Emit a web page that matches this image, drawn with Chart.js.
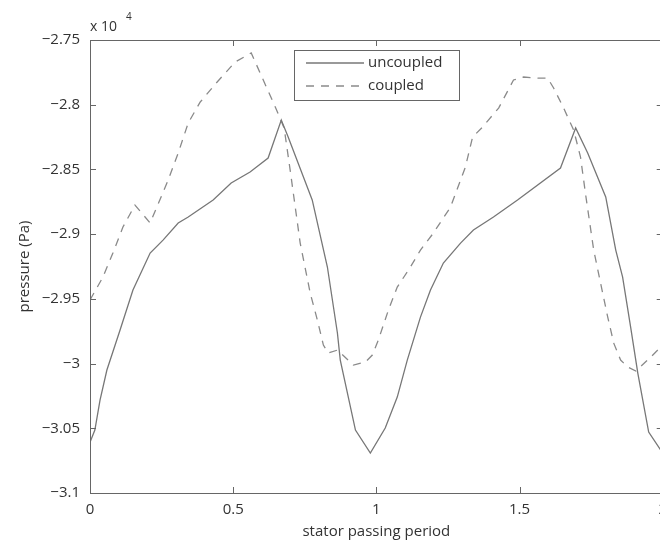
<!DOCTYPE html>
<html>
<head>
<meta charset="utf-8">
<script src="https://cdn.jsdelivr.net/npm/chart.js@4"></script>
<style>
	html, body { margin: 0; padding: 0; background: #fff; overflow: hidden; }
	canvas { display: block; }
</style>
</head>
<body>
<canvas id="pressure_chart" width="675" height="543"></canvas>
<script>
// stator passing period and pressure (Pa), one pair of arrays per run
const uncoupled_period = [
	0, 0.017, 0.035, 0.059, 0.105, 0.15, 0.21, 0.255, 0.308, 0.343, 0.43, 0.493,
	0.559, 0.622, 0.668, 0.692, 0.776, 0.829, 0.864, 0.874, 0.927, 0.979, 1.031,
	1.073, 1.108, 1.154, 1.189, 1.234, 1.294, 1.339, 1.409, 1.493, 1.643, 1.696,
	1.738, 1.801, 1.836, 1.86, 1.888, 1.913, 1.951, 1.993, 2,
]
const uncoupled_pressure = [
	-30607, -30514, -30282, -30050, -29741, -29432, -29146, -29046, -28914,
	-28868, -28736, -28605, -28520, -28412, -28118, -28250, -28736, -29254,
	-29764, -29973, -30514, -30692, -30498, -30259, -29973, -29641, -29432,
	-29223, -29069, -28968, -28868, -28736, -28489, -28180, -28373, -28713,
	-29123, -29332, -29718, -30073, -30529, -30668, -30680,
]
const coupled_period = [
	0, 0.045, 0.08, 0.115, 0.157, 0.21, 0.273, 0.308, 0.343, 0.385, 0.441, 0.507,
	0.563, 0.647, 0.678, 0.699, 0.734, 0.769, 0.794, 0.815, 0.832, 0.864, 0.92,
	0.962, 0.986, 1.007, 1.042, 1.073, 1.119, 1.154, 1.199, 1.259, 1.311, 1.336,
	1.371, 1.427, 1.479, 1.514, 1.563, 1.598, 1.619, 1.654, 1.689, 1.713, 1.731,
	1.759, 1.783, 1.808, 1.829, 1.853, 1.878, 1.906, 1.958, 1.993, 2,
]
const coupled_pressure = [
	-29509, -29332, -29146, -28945, -28775, -28914, -28582, -28373, -28141,
	-27979, -27832, -27670, -27600, -28018, -28180, -28505, -29069, -29455,
	-29664, -29857, -29919, -29896, -30012, -29988, -29934, -29818, -29587,
	-29409, -29254, -29123, -28992, -28791, -28481, -28250, -28172, -28026,
	-27809, -27786, -27794, -27794, -27871, -28026, -28196, -28404, -28698,
	-29123, -29378, -29641, -29842, -29973, -30027, -30058, -29950, -29873,
	-29860,
]
const series_labels = ['uncoupled', 'coupled']
const period_ticks = [0, 0.5, 1, 1.5, 2]
const pressure_ticks = [-31000, -30500, -30000, -29500, -29000, -28500, -28000, -27500]

const font_family = '"Open Sans", "Noto Sans", sans-serif'
const text_color = '#333'
const axis_color = '#666'
const solid_color = '#777'
const dashed_color = '#8a8a8a'
const dash = [8, 7]

const to_points = (xs, ys) => xs.map((x, i) => ({ x: x, y: ys[i] }))

// axes box with inward ticks on all four sides, the x 10^4 note and the legend
const matlab_frame = {
	id: 'matlab_frame',
	afterDraw(chart) {
		const ctx = chart.ctx
		const area = chart.chartArea
		const xs = chart.scales.x
		const ys = chart.scales.y
		const tick = 6
		ctx.save()
		ctx.strokeStyle = axis_color
		ctx.lineWidth = 1
		ctx.strokeRect(area.left + 0.5, area.top + 0.5, area.right - area.left, area.bottom - area.top)
		ctx.beginPath()
		period_ticks.forEach((v) => {
			const px = Math.round(xs.getPixelForValue(v)) + 0.5
			ctx.moveTo(px, area.bottom)
			ctx.lineTo(px, area.bottom - tick)
			ctx.moveTo(px, area.top)
			ctx.lineTo(px, area.top + tick)
		})
		pressure_ticks.forEach((v) => {
			const py = Math.round(ys.getPixelForValue(v)) + 0.5
			ctx.moveTo(area.left, py)
			ctx.lineTo(area.left + tick, py)
			ctx.moveTo(area.right, py)
			ctx.lineTo(area.right - tick, py)
		})
		ctx.stroke()

		// exponent note above the y axis
		ctx.fillStyle = text_color
		ctx.textBaseline = 'middle'
		ctx.textAlign = 'left'
		ctx.font = '14px ' + font_family
		ctx.fillText('x 10', area.left, area.top - 13)
		ctx.font = '10px ' + font_family
		ctx.fillText('4', area.left + 36, area.top - 23)

		// legend
		const lx = area.left + 204
		const ly = area.top + 10
		const lw = 165
		const lh = 50
		ctx.fillStyle = '#fff'
		ctx.fillRect(lx, ly, lw, lh)
		ctx.strokeStyle = axis_color
		ctx.strokeRect(lx + 0.5, ly + 0.5, lw, lh)
		const rows = [
			{ label: series_labels[0], color: solid_color, dash: [] },
			{ label: series_labels[1], color: dashed_color, dash: dash },
		]
		rows.forEach((row, i) => {
			const ry = ly + 13 + i * 23
			ctx.strokeStyle = row.color
			ctx.lineWidth = 1.3
			ctx.setLineDash(row.dash)
			ctx.beginPath()
			ctx.moveTo(lx + 12, ry)
			ctx.lineTo(lx + 70, ry)
			ctx.stroke()
			ctx.setLineDash([])
			ctx.fillStyle = text_color
			ctx.font = '15px ' + font_family
			ctx.fillText(row.label, lx + 74, ry)
		})
		ctx.restore()
	},
}

// eslint-disable-next-line
const pressure_chart = new Chart(document.getElementById('pressure_chart'), {
	type: 'line',
	data: {
		datasets: [
			{
				label: series_labels[0],
				data: to_points(uncoupled_period, uncoupled_pressure),
				borderColor: solid_color,
				borderWidth: 1.3,
				pointRadius: 0,
				tension: 0,
			},
			{
				label: series_labels[1],
				data: to_points(coupled_period, coupled_pressure),
				borderColor: dashed_color,
				borderWidth: 1.3,
				borderDash: dash,
				pointRadius: 0,
				tension: 0,
			},
		],
	},
	options: {
		responsive: false,
		animation: false,
		layout: { padding: { top: 40, right: 6, left: 0, bottom: 0 } },
		plugins: {
			legend: { display: false },
			tooltip: { enabled: false },
		},
		scales: {
			x: {
				type: 'linear',
				min: 0,
				max: 2,
				grid: { display: false, drawTicks: false },
				border: { display: false },
				afterBuildTicks: (scale) => {
					scale.ticks = period_ticks.map((v) => ({ value: v }))
				},
				afterFit: (scale) => {
					scale.height = 50
				},
				ticks: {
					color: text_color,
					font: { family: font_family, size: 15 },
					padding: 8,
					maxRotation: 0,
					callback: (v) => String(v),
				},
				title: {
					display: true,
					text: 'stator passing period',
					color: text_color,
					font: { family: font_family, size: 15 },
					padding: { top: 0, bottom: 2 },
				},
			},
			y: {
				min: -31000,
				max: -27500,
				grid: { display: false, drawTicks: false },
				border: { display: false },
				afterBuildTicks: (scale) => {
					scale.ticks = pressure_ticks.map((v) => ({ value: v }))
				},
				afterFit: (scale) => {
					scale.width = 90
				},
				ticks: {
					color: text_color,
					font: { family: font_family, size: 15 },
					padding: 10,
					callback: (v) => String(Number((v / 1e4).toFixed(2))).replace('-', '\u2212'),
				},
				title: {
					display: true,
					text: 'pressure (Pa)',
					color: text_color,
					font: { family: font_family, size: 15 },
					padding: { top: 16, bottom: 0 },
				},
			},
		},
	},
	plugins: [matlab_frame],
})
</script>
</body>
</html>
